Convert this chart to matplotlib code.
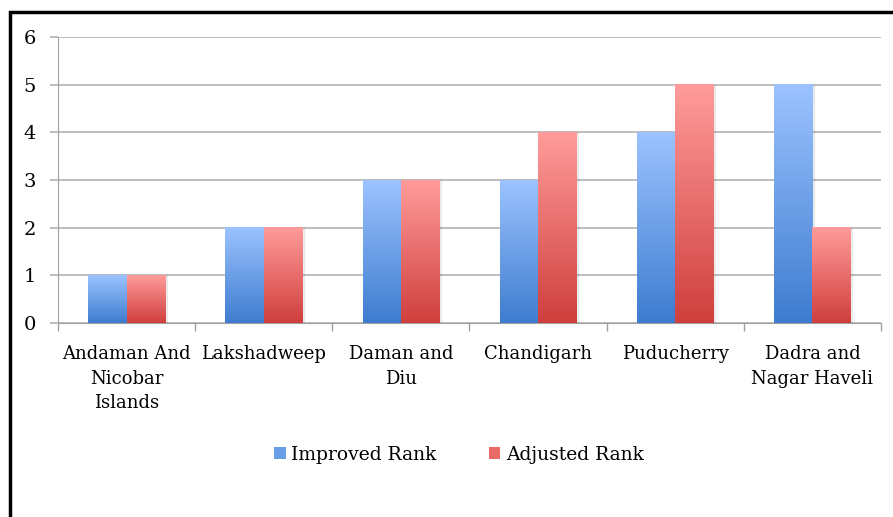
import numpy as np
import matplotlib.pyplot as plt
from matplotlib.patches import Rectangle, Patch
from matplotlib.colors import LinearSegmentedColormap

categories = ['Andaman And\nNicobar\nIslands', 'Lakshadweep', 'Daman and\nDiu',
              'Chandigarh', 'Puducherry', 'Dadra and\nNagar Haveli']
improved_rank = [1, 2, 3, 3, 4, 5]
adjusted_rank = [1, 2, 3, 4, 5, 2]

blue_cmap = LinearSegmentedColormap.from_list('blue', ['#3e7ccf', '#9cc3ff'])
red_cmap = LinearSegmentedColormap.from_list('red', ['#cf3f3d', '#ff9c9b'])

plt.rcParams['font.family'] = ['DejaVu Serif']

fig = plt.figure(figsize=(8.93, 5.17), dpi=100)
ax = fig.add_axes([58 / 893, 1 - 323 / 517, (881 - 58) / 893, (323 - 37) / 517])

x = np.arange(len(categories))
w = 0.28
grad = np.linspace(0, 1, 256).reshape(-1, 1)

for vals, off, cmap in [(improved_rank, -w / 2, blue_cmap), (adjusted_rank, w / 2, red_cmap)]:
    bars = ax.bar(x + off, vals, w, color='none', zorder=3)
    for b in bars:
        x0, y0, bw, bh = b.get_x(), b.get_y(), b.get_width(), b.get_height()
        # faint drop shadow like the office chart
        ax.add_patch(Rectangle((x0 + 0.012, y0), bw, bh, color='#000000', alpha=0.06, zorder=2))
        ax.imshow(grad, cmap=cmap, extent=[x0, x0 + bw, y0, y0 + bh],
                  aspect='auto', origin='lower', zorder=3)

ax.set_xlim(-0.5, len(categories) - 0.5)
ax.set_ylim(0, 6)
ax.set_yticks(range(0, 7))
ax.yaxis.grid(True, color='#b3b3b3', linewidth=1.2)
ax.set_axisbelow(True)

ax.set_xticks(x)
ax.set_xticklabels(categories, fontsize=13, linespacing=1.45)
ax.set_xticks(np.arange(-0.5, len(categories)), minor=True)
ax.tick_params(axis='x', which='major', length=0, pad=16)
ax.tick_params(axis='x', which='minor', length=6, color='#a0a0a0', width=1)
ax.tick_params(axis='y', length=6, color='#b3b3b3', width=1.2, pad=10, labelsize=14)

for s in ['top', 'right']:
    ax.spines[s].set_visible(False)
ax.spines['left'].set_color('#a0a0a0')
ax.spines['bottom'].set_color('#a0a0a0')

handles = [Patch(facecolor='#6a9fe6', label='Improved Rank'),
           Patch(facecolor='#e86b6a', label='Adjusted Rank')]
fig.legend(handles=handles, loc='center', bbox_to_anchor=(459 / 893, 1 - 455 / 517),
           ncol=2, frameon=False, fontsize=13.5, handlelength=0.6, handleheight=0.6,
           handletextpad=0.3, columnspacing=2.8)

# outer chart border
fig.patches.append(Rectangle((10 / 893, -0.1), 1.1, 1.1 - 12 / 517, transform=fig.transFigure,
                             fill=False, edgecolor='black', linewidth=2.5))

plt.savefig('out.png', dpi=100)
